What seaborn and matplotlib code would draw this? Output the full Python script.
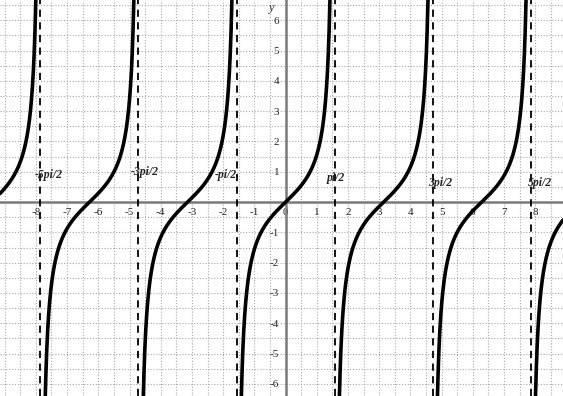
import numpy as np
import pandas as pd
import matplotlib
matplotlib.use("Agg")
import matplotlib.pyplot as plt
import seaborn as sns

# Vertical asymptotes of tan(x) and their labels
asymptotes = [-5 * np.pi / 2, -3 * np.pi / 2, -np.pi / 2, np.pi / 2, 3 * np.pi / 2, 5 * np.pi / 2]
asym_labels = ["-5pi/2", "-3pi/2", "-pi/2", "pi/2", "3pi/2", "5pi/2"]
label_dx = [-0.18, -0.24, -0.69, -0.24, -0.14, -0.08]
label_y = [0.89, 0.99, 0.89, 0.79, 0.63, 0.63]

x_ticks = [-8, -7, -6, -5, -4, -3, -2, -1, 0, 1, 2, 3, 4, 5, 6, 7, 8]
y_ticks = [-6, -5, -4, -3, -2, -1, 1, 2, 3, 4, 5, 6]

x_min, x_max = -9.15, 8.89
y_min, y_max = -6.40, 6.67

# Sample y = tan(x) branch by branch between asymptotes
edges = [x_min] + asymptotes + [x_max]
frames = []
for i in range(len(edges) - 1):
    a, b = edges[i], edges[i + 1]
    eps = 0.02
    xs = np.linspace(a + (eps if i > 0 else 0), b - (eps if i < len(edges) - 2 else 0), 600)
    ys = np.tan(xs)
    frames.append(pd.DataFrame({"x": xs, "y": ys, "branch": i}))
df = pd.concat(frames, ignore_index=True)
df = df[(df["y"] > y_min - 1) & (df["y"] < y_max + 1)]

sns.set_style("white")
fig = plt.figure(figsize=(5.63, 3.96), dpi=100)
ax = fig.add_axes([0, 0, 1, 1])

# dotted grid every half unit
for gx in np.arange(-9.0, 9.01, 0.5):
    ax.axvline(gx, color="#a8a8a8", lw=0.8, ls=(0, (1, 1.6)), zorder=0)
for gy in np.arange(-6.5, 6.51, 0.5):
    ax.axhline(gy, color="#a8a8a8", lw=0.8, ls=(0, (1, 1.6)), zorder=0)

for xa in asymptotes:
    ax.axvline(xa, color="black", lw=1.3, ls=(0, (4, 3)), zorder=2)

sns.lineplot(data=df, x="x", y="y", units="branch", estimator=None,
             color="black", lw=2.6, sort=False, ax=ax, zorder=3, legend=False)

ax.set_xlim(x_min, x_max)
ax.set_ylim(y_min, y_max)

# axes through the origin
for side in ["top", "right"]:
    ax.spines[side].set_visible(False)
ax.spines["left"].set_position(("data", 0))
ax.spines["bottom"].set_position(("data", 0))
for side in ["left", "bottom"]:
    ax.spines[side].set_color("#7a7a7a")
    ax.spines[side].set_linewidth(1.8)
    ax.spines[side].set_zorder(1)

ax.set_xticks(x_ticks)
ax.set_yticks(y_ticks)
ax.set_xticklabels([str(v) for v in x_ticks], fontsize=8, family="Liberation Serif")
ax.set_yticklabels([str(v) for v in y_ticks], fontsize=8, family="Liberation Serif")
ax.tick_params(axis="both", direction="inout", length=5, width=0.9, color="#555555", pad=2)
ax.set_xlabel("")
ax.set_ylabel("")

for xa, lab, dx, ly in zip(asymptotes, asym_labels, label_dx, label_y):
    ax.text(xa + dx, ly, lab, fontsize=8.5, family="Liberation Serif", style="italic",
            fontweight="bold", ha="left", va="center", color="#222222", zorder=4)

ax.text(-0.55, 6.3, "y", fontsize=9, family="Liberation Serif", style="italic", color="#333333")

fig.savefig("out.png", dpi=100)
